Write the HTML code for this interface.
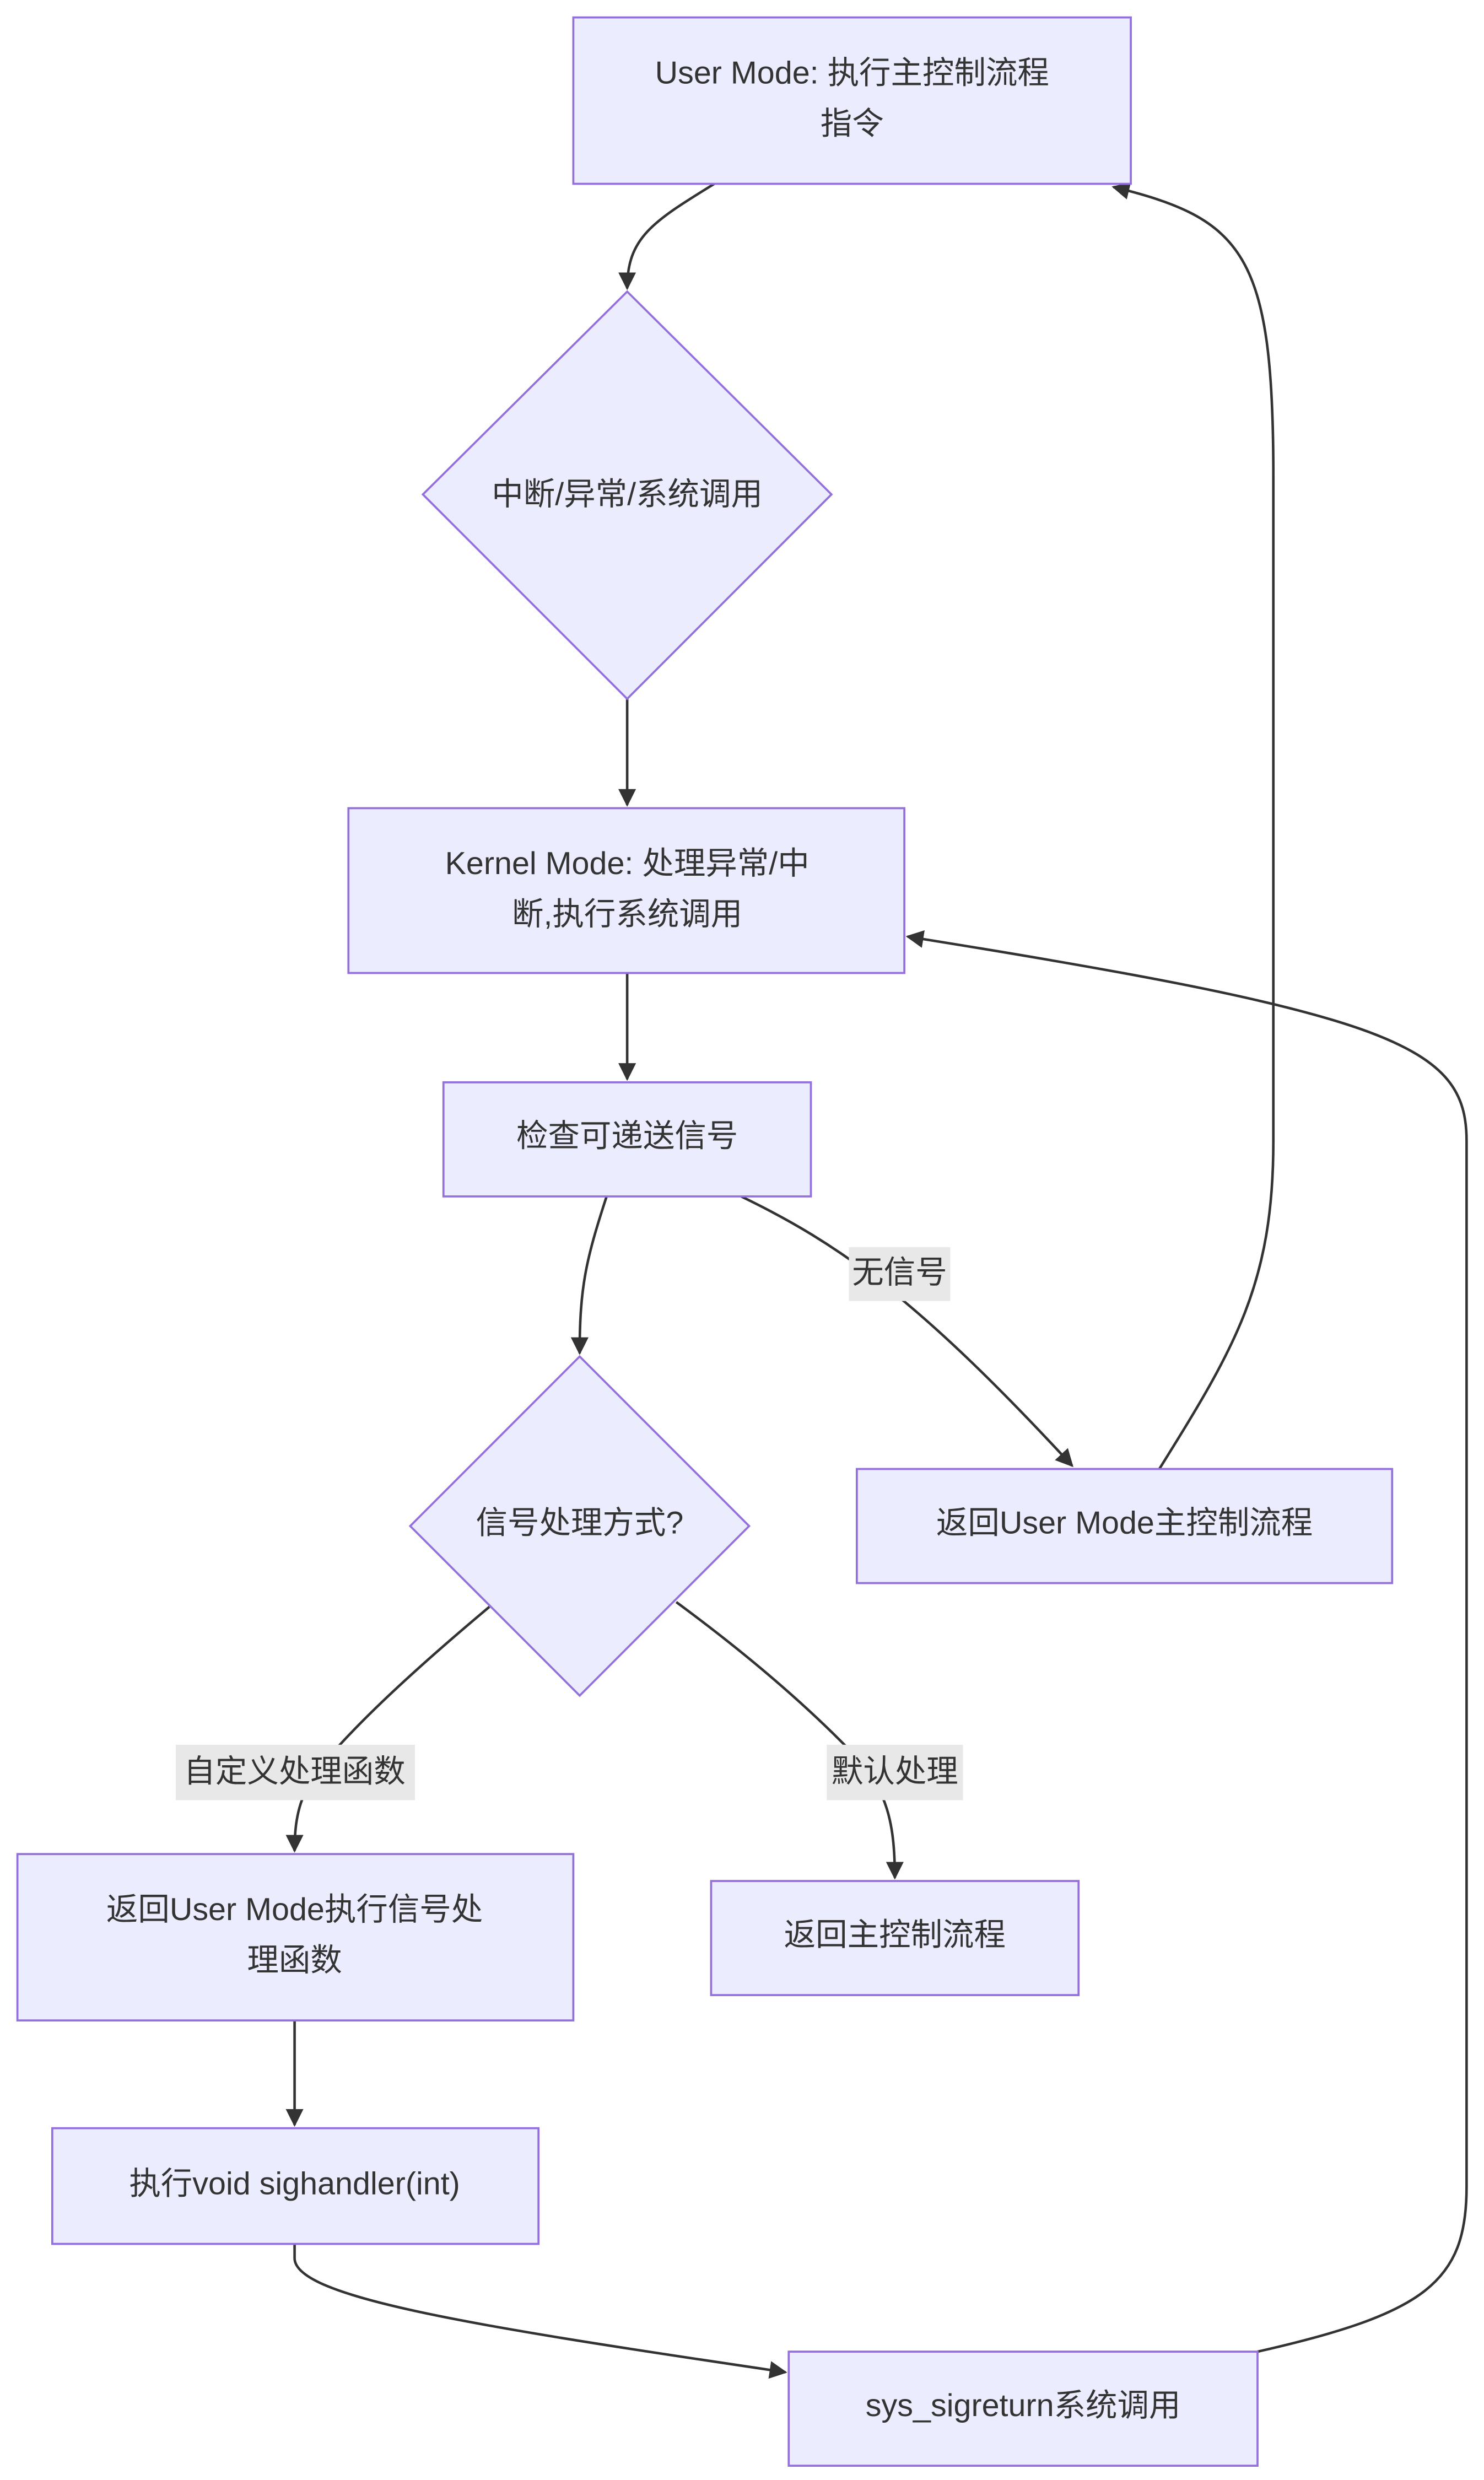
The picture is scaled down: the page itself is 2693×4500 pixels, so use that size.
<!DOCTYPE html>
<html><head><meta charset="utf-8"><style>
html,body{margin:0;padding:0;background:#fff;}
svg{display:block;}
text{font-family:"Liberation Sans","Noto Sans CJK SC",sans-serif;font-size:20px;fill:#333;text-anchor:middle;dominant-baseline:central;}
.n{fill:#ECECFF;stroke:#9370DB;stroke-width:1.3;}
.e{fill:none;stroke:#333;stroke-width:1.6;}
.lb{fill:#e8e8e8;}
</style></head><body>
<svg width="2693" height="4500" viewBox="0 0 937 1565" preserveAspectRatio="none" xmlns="http://www.w3.org/2000/svg">
<defs><marker id="a" viewBox="0 0 10 10" refX="9" refY="5" markerWidth="7" markerHeight="7" orient="auto"><path d="M0,0 L10,5 L0,10 z" fill="#333"/></marker></defs>
<!-- edges -->
<path class="e" marker-end="url(#a)" d="M451,116 C412,140 396,150 396,182"/>
<path class="e" marker-end="url(#a)" d="M396,441 L396,508"/>
<path class="e" marker-end="url(#a)" d="M396,614 L396,681"/>
<path class="e" marker-end="url(#a)" d="M383,755 C370,795 366,812 366,854"/>
<path class="e" marker-end="url(#a)" d="M468,755 C530,785 580,820 677,925"/>
<path class="e" marker-end="url(#a)" d="M732,927 C780,850 804,810 804,720 L804,300 C804,160 785,138 703,118"/>
<path class="e" marker-end="url(#a)" d="M309,1014 C260,1055 225,1088 205,1112 C190,1130 186,1145 186,1168"/>
<path class="e" marker-end="url(#a)" d="M427,1011 C480,1050 515,1082 540,1108 C560,1130 565,1150 565,1185"/>
<path class="e" marker-end="url(#a)" d="M186,1275 L186,1341"/>
<path class="e" marker-end="url(#a)" d="M186,1416 L186,1425 C186,1450 300,1468 496,1497"/>
<path class="e" marker-end="url(#a)" d="M794,1484 C900,1460 926,1440 926,1380 L926,720 C926,660 880,640 573,591"/>
<!-- nodes -->
<rect class="n" x="362" y="11" width="352" height="105"/>
<text x="538" y="46">User Mode: 执行主控制流程</text><text x="538" y="78">指令</text>
<polygon class="n" points="396,184 525,312 396,441 267,312"/>
<text x="396" y="312">中断/异常/系统调用</text>
<rect class="n" x="220" y="510" width="351" height="104"/>
<text x="396" y="545">Kernel Mode: 处理异常/中</text><text x="396" y="577">断,执行系统调用</text>
<rect class="n" x="280" y="683" width="232" height="72"/>
<text x="396" y="717">检查可递送信号</text>
<polygon class="n" points="366,856 473,963 366,1070 259,963"/>
<text x="366" y="961">信号处理方式?</text>
<rect class="n" x="541" y="927" width="338" height="72"/>
<text x="710" y="961">返回User Mode主控制流程</text>
<rect class="n" x="11" y="1170" width="351" height="105"/>
<text x="186" y="1205">返回User Mode执行信号处</text><text x="186" y="1237">理函数</text>
<rect class="n" x="449" y="1187" width="232" height="72"/>
<text x="565" y="1221">返回主控制流程</text>
<rect class="n" x="33" y="1343" width="307" height="73"/>
<text x="186" y="1378">执行void sighandler(int)</text>
<rect class="n" x="498" y="1484" width="296" height="72"/>
<text x="646" y="1518">sys_sigreturn系统调用</text>
<!-- edge labels -->
<rect class="lb" x="536" y="787" width="64" height="34"/><text x="568" y="803">无信号</text>
<rect class="lb" x="111" y="1101" width="151" height="35"/><text x="186" y="1118">自定义处理函数</text>
<rect class="lb" x="522" y="1101" width="86" height="35"/><text x="565" y="1118">默认处理</text>
</svg>
</body></html>
